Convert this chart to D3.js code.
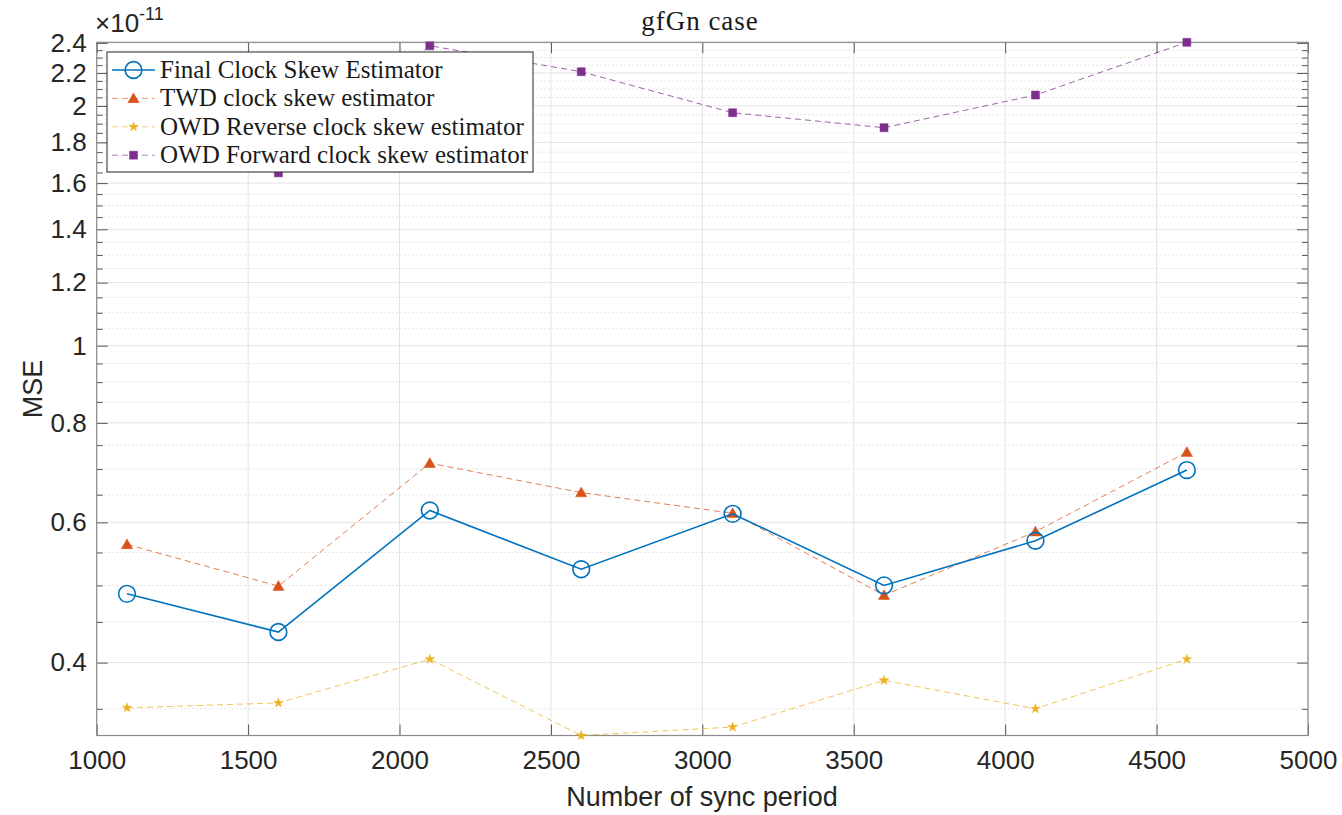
<!DOCTYPE html>
<html>
<head>
<meta charset="utf-8">
<script src="https://cdn.jsdelivr.net/npm/d3@7"></script>
<style>
  body { margin: 0; background: #fff; }
  svg { display: block; }
</style>
</head>
<body>
<div id="chartContainer"></div>
<script>
// Chart size and plot box
const w = 1342;
const h = 815;
const box = { left: 96.7, right: 1308, top: 42.3, bottom: 735.5 };

// Data (MSE values in units of 1e-11)
const periods = [1100, 1600, 2100, 2600, 3100, 3600, 4100, 4600];
const finalEst = [0.488, 0.437, 0.621, 0.524, 0.615, 0.500, 0.569, 0.698];
const twdEst = [0.563, 0.499, 0.712, 0.654, 0.616, 0.486, 0.584, 0.735];
const owdReverse = [0.351, 0.356, 0.404, 0.324, 0.332, 0.380, 0.350, 0.404];
const owdForward = [2.05, 1.648, 2.38, 2.208, 1.961, 1.878, 2.064, 2.404];

const seriesNames = [
  "Final Clock Skew Estimator",
  "TWD clock skew estimator",
  "OWD Reverse clock skew estimator",
  "OWD Forward clock skew estimator"
];

// Tick values
const xTicks = [1000, 1500, 2000, 2500, 3000, 3500, 4000, 4500, 5000];
const yTicks = [0.4, 0.6, 0.8, 1, 1.2, 1.4, 1.6, 1.8, 2, 2.2, 2.4];
const yMinorTicks = [0.35, 0.45, 0.5, 0.55, 0.65, 0.7, 0.75, 0.85, 0.9, 0.95,
  1.05, 1.1, 1.15, 1.25, 1.3, 1.35, 1.45, 1.5, 1.55, 1.65, 1.7, 1.75,
  1.85, 1.9, 1.95, 2.05, 2.1, 2.15, 2.25, 2.3, 2.35];

const series = [
  { name: seriesNames[0], values: finalEst, color: "#0072BD", dash: null, width: 1.6, marker: "circle" },
  { name: seriesNames[1], values: twdEst, color: "#D95319", dash: "6,4", width: 1, marker: "triangle" },
  { name: seriesNames[2], values: owdReverse, color: "#EDB120", dash: "6,4", width: 1, marker: "star" },
  { name: seriesNames[3], values: owdForward, color: "#7E2F8E", dash: "6,4", width: 1, marker: "square" }
];

const allVals = [].concat(finalEst, twdEst, owdReverse, owdForward);

const x = d3.scaleLinear()
  .domain([1000, 5000])
  .range([box.left, box.right]);

const y = d3.scaleLog()
  .domain(d3.extent(allVals))
  .range([box.bottom, box.top]);

const svg = d3.select("#chartContainer")
  .append("svg")
  .attr("width", w)
  .attr("height", h);

const sansFont = "'Liberation Sans', Arial, Helvetica, sans-serif";
const serifFont = "'Liberation Serif', 'Times New Roman', serif";

// Grid lines
const grid = svg.append("g");
grid.selectAll(".ymin")
  .data(yMinorTicks)
  .enter().append("line")
    .attr("x1", box.left).attr("x2", box.right)
    .attr("y1", d => y(d)).attr("y2", d => y(d))
    .attr("stroke", "#c8c8c8")
    .attr("stroke-dasharray", "1,3");
grid.selectAll(".ymaj")
  .data(yTicks)
  .enter().append("line")
    .attr("x1", box.left).attr("x2", box.right)
    .attr("y1", d => y(d)).attr("y2", d => y(d))
    .attr("stroke", "#e3e3e3");
grid.selectAll(".xmaj")
  .data(xTicks)
  .enter().append("line")
    .attr("x1", d => x(d)).attr("x2", d => x(d))
    .attr("y1", box.top).attr("y2", box.bottom)
    .attr("stroke", "#e3e3e3");

// Axes (ticks pointing inward, box on)
const axisColor = "#555";
function styleAxis(g, hideText) {
  g.select(".domain").remove();
  g.selectAll(".tick line").attr("stroke", axisColor);
  g.selectAll(".tick text")
    .attr("fill", "#262626")
    .style("font-family", sansFont)
    .style("font-size", "26px");
  if (hideText) g.selectAll(".tick text").remove();
}

svg.append("g")
  .attr("transform", `translate(0,${box.bottom})`)
  .call(d3.axisBottom(x).tickValues(xTicks).tickSize(-11).tickPadding(15).tickFormat(d => d))
  .call(g => styleAxis(g, false));

svg.append("g")
  .attr("transform", `translate(0,${box.top})`)
  .call(d3.axisTop(x).tickValues(xTicks).tickSize(-11))
  .call(g => styleAxis(g, true));

svg.append("g")
  .attr("transform", `translate(${box.left},0)`)
  .call(d3.axisLeft(y).tickValues(yTicks).tickSize(-11).tickPadding(10).tickFormat(d => d))
  .call(g => styleAxis(g, false));

svg.append("g")
  .attr("transform", `translate(${box.left},0)`)
  .call(d3.axisLeft(y).tickValues(yMinorTicks).tickSize(-6))
  .call(g => styleAxis(g, true));

svg.append("g")
  .attr("transform", `translate(${box.right},0)`)
  .call(d3.axisRight(y).tickValues(yTicks).tickSize(-11))
  .call(g => styleAxis(g, true));

svg.append("g")
  .attr("transform", `translate(${box.right},0)`)
  .call(d3.axisRight(y).tickValues(yMinorTicks).tickSize(-6))
  .call(g => styleAxis(g, true));

// Box
svg.append("rect")
  .attr("x", box.left).attr("y", box.top)
  .attr("width", box.right - box.left)
  .attr("height", box.bottom - box.top)
  .attr("fill", "none")
  .attr("stroke", "#8a8a8a")
  .attr("stroke-width", 1.2);

// Marker shapes
const symbols = {
  circle: d3.symbol().type(d3.symbolCircle).size(220),
  triangle: d3.symbol().type(d3.symbolTriangle).size(55),
  star: d3.symbol().type(d3.symbolStar).size(28),
  square: d3.symbol().type(d3.symbolSquare).size(64)
};

function drawMarker(g, s, cx, cy) {
  const open = s.marker === "circle";
  const dy = s.marker === "triangle" ? 1 : 0;
  g.append("path")
    .attr("d", symbols[s.marker]())
    .attr("transform", `translate(${cx},${cy + dy})`)
    .attr("fill", open ? "none" : s.color)
    .attr("stroke", s.color)
    .attr("stroke-width", open ? 1.6 : 0.5);
}

const line = d3.line()
  .x(d => x(d[0]))
  .y(d => y(d[1]));

// Series, drawn back to front
const plotG = svg.append("g");
series.slice().reverse().forEach(s => {
  const pts = periods.map((p, i) => [p, s.values[i]]);
  plotG.append("path")
    .datum(pts)
    .attr("d", line)
    .attr("fill", "none")
    .attr("stroke", s.color)
    .attr("stroke-width", s.width)
    .attr("stroke-opacity", s.dash ? 0.75 : 1)
    .attr("stroke-dasharray", s.dash);
  pts.forEach(d => drawMarker(plotG, s, x(d[0]), y(d[1])));
});

// Legend
const legend = svg.append("g");
legend.append("rect")
  .attr("x", 107).attr("y", 52)
  .attr("width", 426).attr("height", 120)
  .attr("fill", "#fff")
  .attr("stroke", "#262626")
  .attr("stroke-width", 1);

series.forEach((s, i) => {
  const ly = 70 + i * 28.4;
  legend.append("line")
    .attr("x1", 112).attr("x2", 155)
    .attr("y1", ly).attr("y2", ly)
    .attr("stroke", s.color)
    .attr("stroke-width", s.width)
    .attr("stroke-opacity", s.dash ? 0.6 : 1)
    .attr("stroke-dasharray", s.dash);
  drawMarker(legend, s, 133.5, ly);
  legend.append("text")
    .attr("x", 160)
    .attr("y", ly + 8)
    .text(s.name)
    .style("font-family", serifFont)
    .style("font-size", "25px")
    .attr("fill", "#1a1a1a");
});

// Title
svg.append("text")
  .attr("x", 700)
  .attr("y", 30)
  .attr("text-anchor", "middle")
  .style("font-family", serifFont)
  .style("font-size", "27px")
  .style("letter-spacing", "1px")
  .attr("fill", "#1a1a1a")
  .text("gfGn case");

// Exponent label
const expo = svg.append("text")
  .attr("x", 95)
  .attr("y", 32)
  .attr("fill", "#262626")
  .style("font-family", sansFont)
  .style("font-size", "26px");
expo.append("tspan").text("\u00d710");
expo.append("tspan")
  .attr("dy", -12)
  .style("font-size", "18px")
  .text("-11");

// Axis labels
svg.append("text")
  .attr("x", 702)
  .attr("y", 806)
  .attr("text-anchor", "middle")
  .attr("fill", "#262626")
  .style("font-family", sansFont)
  .style("font-size", "27px")
  .text("Number of sync period");

svg.append("text")
  .attr("transform", "translate(42,389) rotate(-90)")
  .attr("text-anchor", "middle")
  .attr("fill", "#262626")
  .style("font-family", sansFont)
  .style("font-size", "27px")
  .text("MSE");
</script>
</body>
</html>
